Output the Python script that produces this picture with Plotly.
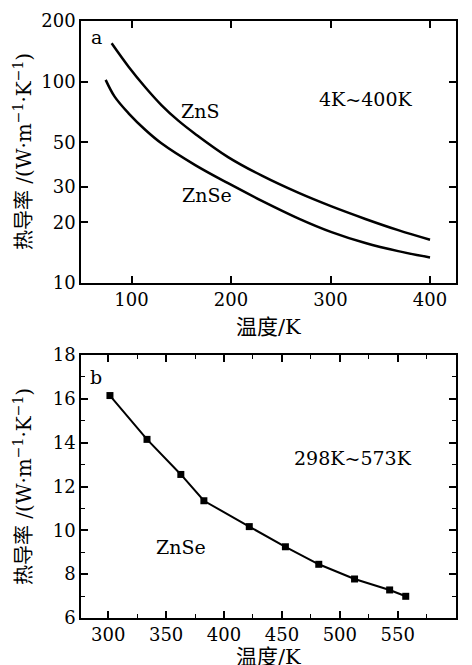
import plotly.graph_objects as go

# ---- data ----
zns_T = [80, 97, 114, 130, 147, 164, 197, 231, 268, 301, 335, 368, 400]
zns_k = [155, 118.6, 93.5, 76.5, 64, 55, 42.2, 34.1, 28.0, 24.0, 20.8, 18.3, 16.4]
znse_T = [74, 83, 97, 114, 130, 164, 197, 231, 268, 301, 335, 368, 400]
znse_k = [102, 84.2, 69.6, 57.5, 49.4, 38.5, 31.3, 25.6, 20.9, 17.9, 15.8, 14.4, 13.4]

b_T = [301.5, 333.5, 362.7, 382.6, 421.8, 453, 481.8, 512.7, 543, 556.9]
b_k = [16.15, 14.15, 12.55, 11.35, 10.17, 9.25, 8.45, 7.78, 7.28, 6.99]

top_yticks = [10, 20, 30, 50, 100, 200]
top_xticks = [100, 200, 300, 400]
bot_xticks = [300, 350, 400, 450, 500, 550, 600]

W, H = 472, 665
FONT = "DejaVu Serif"
CJK = "DejaVu Serif, Noto Sans CJK SC"

def px(x):
    return x / W

def py(y):
    return 1 - y / H

fig = go.Figure()

fig.add_trace(go.Scatter(x=zns_T, y=zns_k, mode="lines",
                         line=dict(color="black", width=2.5, shape="spline", smoothing=1),
                         xaxis="x", yaxis="y", showlegend=False))
fig.add_trace(go.Scatter(x=znse_T, y=znse_k, mode="lines",
                         line=dict(color="black", width=2.5, shape="spline", smoothing=1),
                         xaxis="x", yaxis="y", showlegend=False))
fig.add_trace(go.Scatter(x=b_T, y=b_k, mode="lines+markers", line=dict(color="black", width=2),
                         marker=dict(symbol="square", size=7, color="black"),
                         xaxis="x2", yaxis="y2", showlegend=False))

axis_common = dict(showline=True, linecolor="black", linewidth=1.5, mirror="allticks",
                   ticks="inside", tickcolor="black", tickwidth=1.5, ticklen=7,
                   showgrid=False, zeroline=False, automargin=False,
                   tickfont=dict(family=FONT, size=18, color="black"))

xdom = [px(81), px(456)]
fig.update_layout(
    width=W, height=H,
    margin=dict(l=0, r=0, t=0, b=0, autoexpand=False),
    paper_bgcolor="white", plot_bgcolor="white",
    xaxis=dict(domain=xdom, range=[49.2, 426.1], tickvals=top_xticks, anchor="y", **axis_common),
    yaxis=dict(domain=[py(283), py(21)], type="log", range=[1, 2.30103], tickvals=top_yticks,
               anchor="x", **axis_common),
    xaxis2=dict(domain=xdom, range=[276.5, 600.3], tickvals=bot_xticks, anchor="y2",
                minor=dict(dtick=25, tick0=300, ticks="inside", ticklen=4, tickcolor="black", tickwidth=1.2),
                **axis_common),
    yaxis2=dict(domain=[py(618), py(355)], range=[6, 18], dtick=2, tick0=6, anchor="x2",
                minor=dict(dtick=1, ticks="inside", ticklen=4, tickcolor="black", tickwidth=1.2),
                **axis_common),
)

ytitle = "热导率 /(W·m<sup>−1</sup>·K<sup>−1</sup>)"
ann = [
    dict(text=ytitle, x=px(23), y=py(152), textangle=-90, size=20),
    dict(text=ytitle, x=px(23), y=py(487), textangle=-90, size=20),
    dict(text="温度/K", x=px(268), y=py(327), size=21),
    dict(text="温度/K", x=px(268), y=py(657), size=21),
    dict(text="a", x=px(96), y=py(37), size=19),
    dict(text="ZnS", x=px(200), y=py(111), size=19),
    dict(text="ZnSe", x=px(207), y=py(195), size=19),
    dict(text="4K~400K", x=px(365), y=py(99), size=19),
    dict(text="b", x=px(96), y=py(377), size=19),
    dict(text="298K~573K", x=px(353), y=py(458), size=19),
    dict(text="ZnSe", x=px(181), y=py(547), size=19),
]
out = []
for a in ann:
    s = a.pop("size")
    a.update(xref="paper", yref="paper", showarrow=False, xanchor="center", yanchor="middle",
             font=dict(family=CJK, size=s, color="black"))
    out.append(a)
fig.update_layout(annotations=out)

fig.write_html("out.html", config={"displayModeBar": False},
               post_script="document.body.style.margin='0';")
